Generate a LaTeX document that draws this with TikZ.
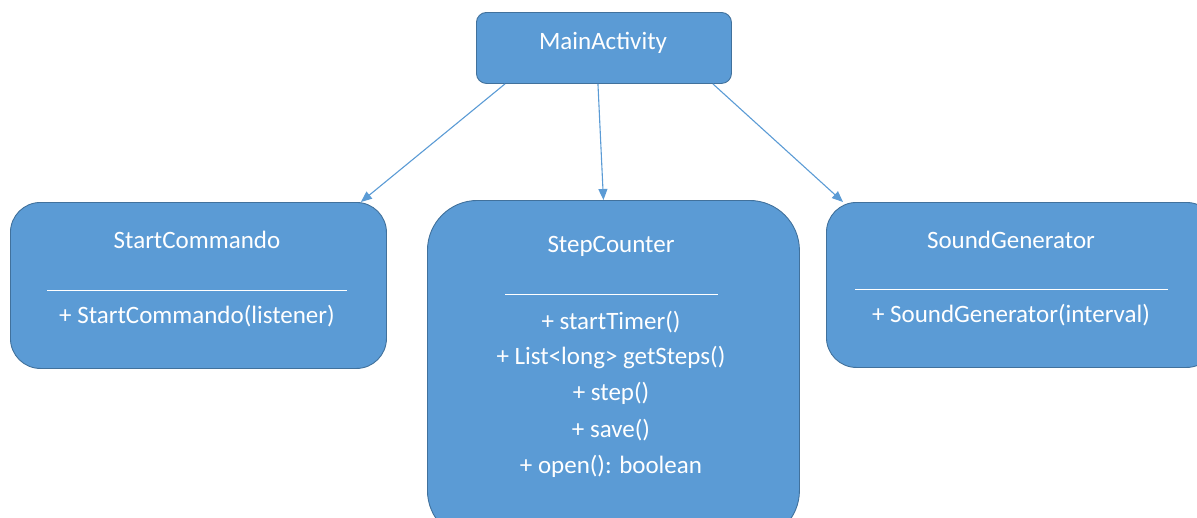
\documentclass[tikz,border=0pt]{standalone}
\usepackage{fontspec}
\setmainfont{Carlito}
\usetikzlibrary{arrows.meta}
\definecolor{boxfill}{HTML}{5B9BD5}
\definecolor{boxline}{HTML}{41719C}
\definecolor{linkcol}{HTML}{5B9BD5}
\begin{document}
\begin{tikzpicture}[x=1pt,y=-1pt,
  classbox/.style={draw=boxline,line width=0.9pt,fill=boxfill,inner sep=0pt,anchor=north west},
  lbl/.style={text=white,font=\fontsize{25}{29}\selectfont,inner sep=0pt,anchor=center},
  sep/.style={draw=white,line width=1pt},
  link/.style={draw=linkcol,line width=1.1pt,-{Triangle[length=11pt,width=9pt]}}]
\useasboundingbox (0,0) rectangle (1197,517);

% class boxes
\node[classbox,rounded corners=10pt,minimum width=255pt,minimum height=71pt] (main) at (476,12) {};
\node[classbox,rounded corners=30pt,minimum width=376pt,minimum height=166pt] (sc) at (10,202) {};
\node[classbox,rounded corners=50pt,minimum width=372pt,minimum height=340pt] (step) at (427,200) {};
\node[classbox,rounded corners=30pt,minimum width=390pt,minimum height=165pt] (sg) at (826,202) {};

% titles
\node[lbl] (mainT) at (603,43) {MainActivity};
\node[lbl] (scT) at (197,240) {StartCommando};
\node[lbl] (stepT) at (611,246) {StepCounter};
\node[lbl] (sgT) at (1011,240) {SoundGenerator};

% separators between name and operations
\coordinate (scA) at (47,290);  \coordinate (scB) at (347,290);
\coordinate (stA) at (505,294); \coordinate (stB) at (718,294);
\coordinate (sgA) at (855,289); \coordinate (sgB) at (1168,289);
\draw[sep] (scA) -- (scB);
\draw[sep] (stA) -- (stB);
\draw[sep] (sgA) -- (sgB);

% operations
\node[lbl] (scM) at (197,316) {+ StartCommando(listener)};
\node[lbl] (sgM) at (1011,315) {+ SoundGenerator(interval)};
\node[lbl] (st1) at (611,322) {+ startTimer()};
\node[lbl] (st2) at (611,357) {+ List<long> getSteps()};
\node[lbl] (st3) at (611,393) {+ step()};
\node[lbl] (st4) at (611,430) {+ save()};
\node[lbl] (st5) at (611,466) {+ open(): boolean};

% associations
\draw[link] ([xshift=29pt]main.south west) -- ([xshift=-26pt]sc.north east);
\draw[link] ([xshift=-6pt]main.south) -- ([xshift=-10pt]step.north);
\draw[link] ([xshift=-19pt]main.south east) -- ([xshift=17pt]sg.north west);
\end{tikzpicture}
\end{document}
